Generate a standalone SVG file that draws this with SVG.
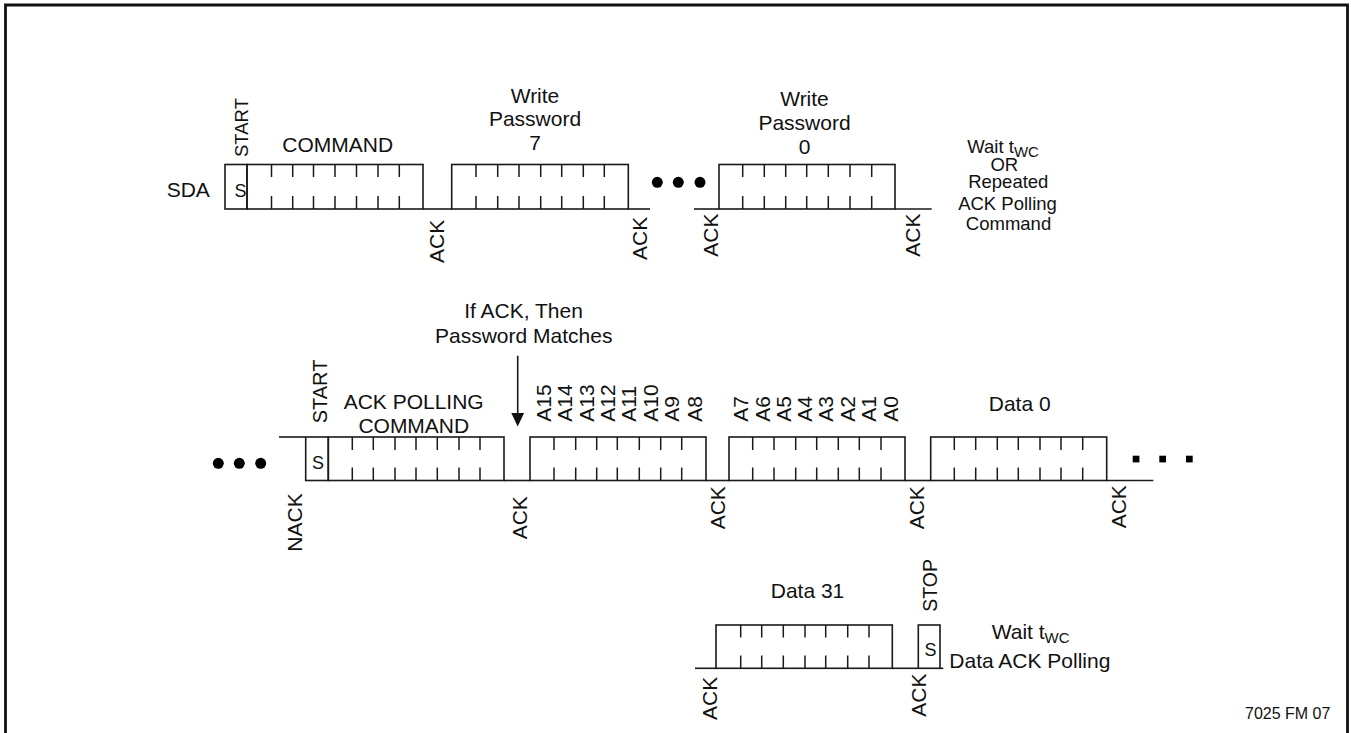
<svg xmlns="http://www.w3.org/2000/svg" width="1351" height="733" viewBox="0 0 1351 733">
<style>
  .bx{fill:none;stroke:#1a1a1a;stroke-width:1.6}
  .tk{fill:none;stroke:#1a1a1a;stroke-width:1.5}
  .ln{fill:none;stroke:#1a1a1a;stroke-width:1.6}
  text{font-family:"Liberation Sans",Arial,sans-serif;fill:#111;font-size:21px}
  .m{text-anchor:middle}
  .s18{font-size:18.5px}
  .sm{font-size:18px}
  .f20{font-size:20px}
  .f195{font-size:19.5px}
  .f16{font-size:16px}
  .dot{fill:#000}
</style>
<rect width="1351" height="733" fill="#fff"/>
<g id="frame">
  <path d="M5.5,745 V5 H1347.5 V745" fill="none" stroke="#111" stroke-width="2.8"/>
</g>

<g id="connectors">
  <path class="ln" d="M423,209 H452"/>
  <path class="ln" d="M628.3,209 H650"/>
  <path class="ln" d="M694,209 H719"/>
  <path class="ln" d="M895,209 H931.7"/>
  <path class="ln" d="M279,437 H305.7"/>
  <path class="ln" d="M504,480.5 H530"/>
  <path class="ln" d="M706,480.5 H729"/>
  <path class="ln" d="M905,480.5 H930.7"/>
  <path class="ln" d="M1106.7,480.5 H1153.3"/>
  <path class="ln" d="M695,668.3 H716"/>
  <path class="ln" d="M892.3,668.3 H918.3"/>
  <path class="ln" d="M940,668.3 H943.3"/>
  <path class="ln" d="M517.7,355.7 V414" stroke-width="2"/>
  <polygon points="511.3,413 524.1,413 517.7,426.5" fill="#111"/>
</g>

<!-- Top row -->
<g id="sda-label"><text x="166.7" y="196.7">SDA</text></g>
<g id="start1">
  <rect class="bx" x="225" y="164.5" width="22" height="44.5"/>
  <text class="m sm" x="240.5" y="196.5">S</text>
  <text class="s18" transform="translate(248,157) rotate(-90)">START</text>
</g>
<g id="command">
  <rect class="bx" x="247" y="164.5" width="176" height="44.5"/>
  <path class="tk" d="M271.5,164.5v12.5M292.7,164.5v12.5M313.5,164.5v12.5M335,164.5v12.5M356.5,164.5v12.5M378,164.5v12.5M399.3,164.5v12.5M271.5,196v13M292.7,196v13M313.5,196v13M335,196v13M356.5,196v13M378,196v13M399.3,196v13"/>
  <text class="m" x="337.7" y="151.7">COMMAND</text>
</g>
<g id="ack-t1"><text transform="translate(444.3,263) rotate(-90)">ACK</text></g>
<g id="wp7">
  <rect class="bx" x="451.7" y="164.5" width="176.6" height="44.5"/>
  <path class="tk" d="M476,164.5v12.5M497.7,164.5v12.5M519,164.5v12.5M540.7,164.5v12.5M561.7,164.5v12.5M583.3,164.5v12.5M604.3,164.5v12.5M476,196v13M497.7,196v13M519,196v13M540.7,196v13M561.7,196v13M583.3,196v13M604.3,196v13"/>
  <text class="m" x="535" y="103.3">Write</text>
  <text class="m" x="535" y="125.7">Password</text>
  <text class="m" x="535" y="150">7</text>
</g>
<g id="ack-t2"><text transform="translate(646.7,260) rotate(-90)">ACK</text></g>
<g id="dots-top">
  <circle class="dot" cx="657.3" cy="182.3" r="5.5"/>
  <circle class="dot" cx="678.3" cy="182.3" r="5.5"/>
  <circle class="dot" cx="700" cy="182.3" r="5.5"/>
</g>
<g id="ack-t3"><text transform="translate(717.7,256.7) rotate(-90)">ACK</text></g>
<g id="wp0">
  <rect class="bx" x="719" y="164.5" width="176" height="44.5"/>
  <path class="tk" d="M742.7,164.5v12.5M764.3,164.5v12.5M785.7,164.5v12.5M806.7,164.5v12.5M828.3,164.5v12.5M850,164.5v12.5M871.7,164.5v12.5M742.7,196v13M764.3,196v13M785.7,196v13M806.7,196v13M828.3,196v13M850,196v13M871.7,196v13"/>
  <text class="m" x="804.5" y="105.7">Write</text>
  <text class="m" x="804.5" y="130">Password</text>
  <text class="m" x="804.5" y="154.3">0</text>
</g>
<g id="ack-t4"><text transform="translate(920,256.7) rotate(-90)">ACK</text></g>
<g id="wait-note">
  <text class="s18" x="967.3" y="153.3">Wait t<tspan font-size="15px" dy="4">WC</tspan></text>
  <text class="m s18" x="1004.3" y="171">OR</text>
  <text class="m s18" x="1008.3" y="188">Repeated</text>
  <text class="m s18" x="1007.5" y="210">ACK Polling</text>
  <text class="m s18" x="1008.5" y="230">Command</text>
</g>

<!-- Middle row -->
<g id="dots-mid">
  <circle class="dot" cx="218.3" cy="463.3" r="5.5"/>
  <circle class="dot" cx="239.3" cy="463.3" r="5.5"/>
  <circle class="dot" cx="260.7" cy="463.3" r="5.5"/>
</g>
<g id="nack"><text transform="translate(301.7,551.7) rotate(-90)">NACK</text></g>
<g id="start2">
  <rect class="bx" x="305.7" y="437" width="22.6" height="43.5"/>
  <text class="m sm" x="318" y="469">S</text>
  <text class="f20" transform="translate(327,423.3) rotate(-90)">START</text>
</g>
<g id="ack-polling-command">
  <rect class="bx" x="328.3" y="437" width="175.7" height="43.5"/>
  <path class="tk" d="M352.3,437v13M373.3,437v13M395,437v13M416,437v13M437.3,437v13M459,437v13M480,437v13M352.3,467.5v13M373.3,467.5v13M395,467.5v13M416,467.5v13M437.3,467.5v13M459,467.5v13M480,467.5v13"/>
  <text class="m" x="413.7" y="409.3">ACK POLLING</text>
  <text class="m" x="413.8" y="432.7">COMMAND</text>
</g>
<g id="note-match">
  <text class="m" x="523.5" y="318.3">If ACK, Then</text>
  <text class="m" x="523.7" y="342.7">Password Matches</text>
</g>
<g id="ack-m1"><text transform="translate(526.7,539.3) rotate(-90)">ACK</text></g>
<g id="addr-hi">
  <rect class="bx" x="530" y="437" width="176" height="43.5"/>
  <path class="tk" d="M554,437v13M575.7,437v13M596.7,437v13M617.3,437v13M639.3,437v13M660.7,437v13M681.7,437v13M554,467.5v13M575.7,467.5v13M596.7,467.5v13M617.3,467.5v13M639.3,467.5v13M660.7,467.5v13M681.7,467.5v13"/>
  <text transform="translate(550.5,421.7) rotate(-90)">A15</text>
  <text transform="translate(572.3,421.7) rotate(-90)">A14</text>
  <text transform="translate(593.7,421.7) rotate(-90)">A13</text>
  <text transform="translate(614.5,421.7) rotate(-90)">A12</text>
  <text transform="translate(636,421.7) rotate(-90)">A11</text>
  <text transform="translate(657.5,421.7) rotate(-90)">A10</text>
  <text transform="translate(679,421.7) rotate(-90)">A9</text>
  <text transform="translate(701.5,421.7) rotate(-90)">A8</text>
</g>
<g id="ack-m2"><text transform="translate(725,529.3) rotate(-90)">ACK</text></g>
<g id="addr-lo">
  <rect class="bx" x="729" y="437" width="176" height="43.5"/>
  <path class="tk" d="M752.7,437v13M774,437v13M795.7,437v13M816.7,437v13M838.3,437v13M859.3,437v13M881,437v13M752.7,467.5v13M774,467.5v13M795.7,467.5v13M816.7,467.5v13M838.3,467.5v13M859.3,467.5v13M881,467.5v13"/>
  <text transform="translate(748.3,421.7) rotate(-90)">A7</text>
  <text transform="translate(770,421.7) rotate(-90)">A6</text>
  <text transform="translate(790.7,421.7) rotate(-90)">A5</text>
  <text transform="translate(811.7,421.7) rotate(-90)">A4</text>
  <text transform="translate(833.3,421.7) rotate(-90)">A3</text>
  <text transform="translate(855,421.7) rotate(-90)">A2</text>
  <text transform="translate(876.3,421.7) rotate(-90)">A1</text>
  <text transform="translate(897.5,421.7) rotate(-90)">A0</text>
</g>
<g id="ack-m3"><text transform="translate(924,529.3) rotate(-90)">ACK</text></g>
<g id="data0">
  <rect class="bx" x="930.7" y="437" width="176" height="43.5"/>
  <path class="tk" d="M954.3,437v13M975.7,437v13M997.3,437v13M1018.3,437v13M1040,437v13M1061,437v13M1082.7,437v13M954.3,467.5v13M975.7,467.5v13M997.3,467.5v13M1018.3,467.5v13M1040,467.5v13M1061,467.5v13M1082.7,467.5v13"/>
  <text class="m" x="1019.7" y="410.7">Data 0</text>
</g>
<g id="ack-m4"><text transform="translate(1125.7,528.3) rotate(-90)">ACK</text></g>
<g id="dots-right">
  <rect class="dot" x="1132.7" y="455.7" width="6.7" height="6.7"/>
  <rect class="dot" x="1159.3" y="455.7" width="6.7" height="6.7"/>
  <rect class="dot" x="1186" y="455.7" width="6.7" height="6.7"/>
</g>

<!-- Bottom row -->
<g id="ack-b1"><text transform="translate(716.7,720) rotate(-90)">ACK</text></g>
<g id="data31">
  <rect class="bx" x="716" y="625" width="176.3" height="43.3"/>
  <path class="tk" d="M740.7,625v12.5M761.7,625v12.5M783.3,625v12.5M805,625v12.5M825.7,625v12.5M847.7,625v12.5M869,625v12.5M740.7,655.5v12.8M761.7,655.5v12.8M783.3,655.5v12.8M805,655.5v12.8M825.7,655.5v12.8M847.7,655.5v12.8M869,655.5v12.8"/>
  <text class="m" x="807.5" y="598.3">Data 31</text>
</g>
<g id="ack-b2"><text transform="translate(926,716.7) rotate(-90)">ACK</text></g>
<g id="stop">
  <rect class="bx" x="918.3" y="625" width="21.7" height="43.3"/>
  <text class="m sm" x="930.5" y="656">S</text>
  <text class="f195" transform="translate(936.7,611.7) rotate(-90)">STOP</text>
</g>
<g id="wait-note2">
  <text x="991.7" y="639.3">Wait t<tspan font-size="15px" dy="4">WC</tspan></text>
  <text x="949.3" y="668.3">Data ACK Polling</text>
</g>
<g id="fig-id"><text class="f16" x="1245" y="719.3">7025 FM 07</text></g>
</svg>
